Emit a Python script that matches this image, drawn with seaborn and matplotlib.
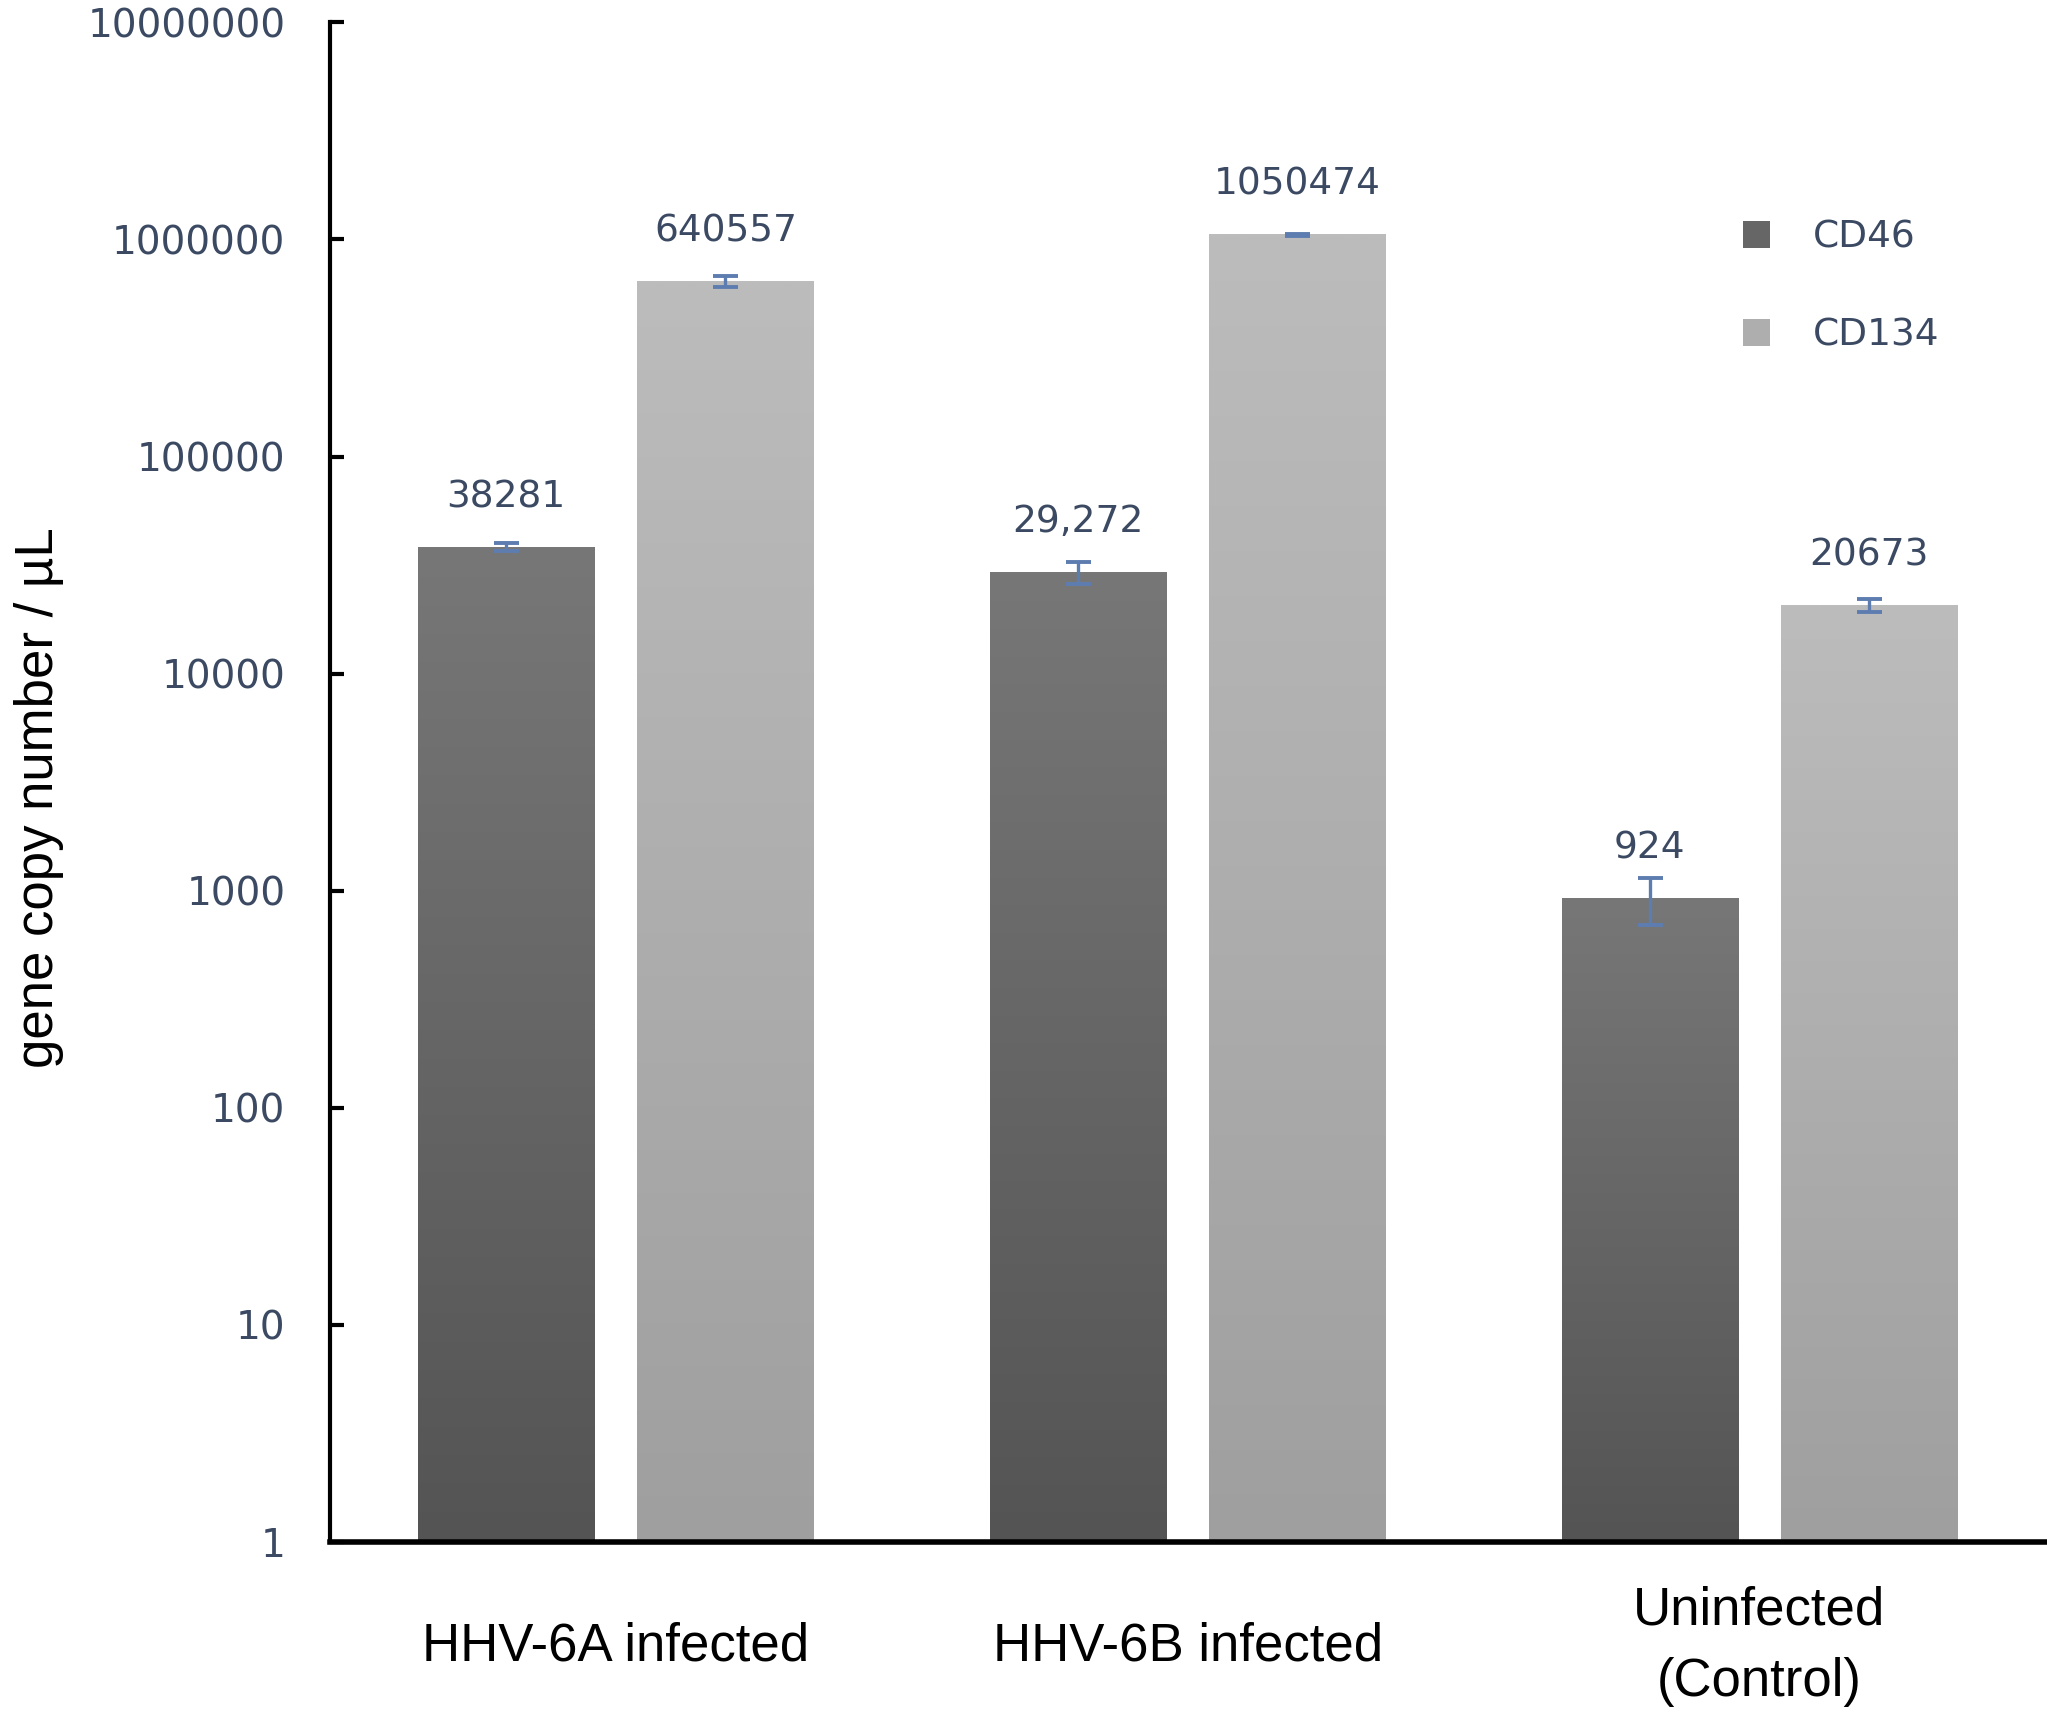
import numpy as np
import pandas as pd
import matplotlib
matplotlib.use("Agg")
import matplotlib.pyplot as plt
from matplotlib import font_manager
import seaborn as sns

# ---------------- data ----------------
categories = ["HHV-6A infected", "HHV-6B infected", "Uninfected\n(Control)"]
genes = ["CD46", "CD134"]
cd46_values = [38281, 29272, 924]
cd134_values = [640557, 1050474, 20673]
cd46_errors = [1500, 3300, 225]
cd134_errors = [35000, 8000, 1450]
cd46_labels = ["38281", "29,272", "924"]
cd134_labels = ["640557", "1050474", "20673"]
ytick_values = [1, 10, 100, 1000, 10000, 100000, 1000000, 10000000]
ytick_labels = ["1", "10", "100", "1000", "10000", "100000", "1000000", "10000000"]

df = pd.DataFrame({
    "category": categories * 2,
    "gene": [genes[0]] * 3 + [genes[1]] * 3,
    "value": cd46_values + cd134_values,
})

# ---------------- style ----------------
sns.set_theme(style="white")
available = {f.name for f in font_manager.fontManager.ttflist}
narrow = "Liberation Sans Narrow" if "Liberation Sans Narrow" in available else None
label_family = [narrow, "Liberation Sans", "DejaVu Sans"] if narrow else ["Liberation Sans", "DejaVu Sans"]
label_size = 46 if narrow else 38
plt.rcParams["font.family"] = ["DejaVu Sans"]

text_color = "#3b4a62"
err_color = "#5d7db0"
top_colors = {"CD46": "#777777", "CD134": "#bcbcbc"}
bot_colors = {"CD46": "#545454", "CD134": "#9f9f9f"}
mid_colors = {"CD46": "#666666", "CD134": "#aeaeae"}

fig = plt.figure(figsize=(20.47, 17.21), dpi=100)
ax = fig.add_axes([0.1612, 0.104, 0.8388, 0.883])

sns.barplot(data=df, x="category", y="value", hue="gene", order=categories,
            hue_order=genes, palette=[mid_colors[g] for g in genes],
            width=0.767, gap=0.197, errorbar=None, ax=ax, saturation=1,
            linewidth=0)

ax.set_yscale("log")
ax.set_ylim(1, 1e7)
ax.set_xlim(-0.5, 2.503)

# gradients per bar
fig.canvas.draw()
to_axes = ax.transData + ax.transAxes.inverted()
for gene, cont in zip(genes, ax.containers):
    c_top = np.array(matplotlib.colors.to_rgb(top_colors[gene]))
    c_bot = np.array(matplotlib.colors.to_rgb(bot_colors[gene]))
    t = np.linspace(0, 1, 256)[:, None]
    grad = (c_top[None, :] * (1 - t) + c_bot[None, :] * t)[:, None, :]
    for patch in cont.patches:
        x0 = patch.get_x()
        x1 = x0 + patch.get_width()
        ytop = patch.get_y() + patch.get_height()
        (ax0, ay1) = to_axes.transform((x0, ytop))
        (ax1, _) = to_axes.transform((x1, ytop))
        ax.imshow(grad, extent=(ax0, ax1, 0, ay1), transform=ax.transAxes,
                  aspect="auto", origin="upper", zorder=2.5, interpolation="bilinear")

ax.set_ylim(1, 1e7)
ax.set_xlim(-0.5, 2.503)

# error bars and value labels
for cont, vals, errs, labs in zip(ax.containers, [cd46_values, cd134_values],
                                  [cd46_errors, cd134_errors], [cd46_labels, cd134_labels]):
    xs = [p.get_x() + p.get_width() / 2 for p in cont.patches]
    ax.errorbar(xs, vals, yerr=errs, fmt="none", ecolor=err_color, elinewidth=2.4,
                capsize=9, capthick=2.8, zorder=5)
    for x, v, lab in zip(xs, vals, labs):
        ax.annotate(lab, xy=(x, v), xytext=(0, 36), textcoords="offset points",
                    ha="center", va="center", fontsize=27, color=text_color,
                    family=["DejaVu Sans"])

# axes styling
for side in ["top", "right"]:
    ax.spines[side].set_visible(False)
ax.spines["left"].set_linewidth(3)
ax.spines["bottom"].set_linewidth(4)
ax.spines["left"].set_color("black")
ax.spines["bottom"].set_color("black")

ax.yaxis.set_major_locator(matplotlib.ticker.FixedLocator(ytick_values))
ax.yaxis.set_minor_locator(matplotlib.ticker.NullLocator())
ax.set_yticklabels(ytick_labels)
ax.tick_params(axis="y", direction="in", length=10, width=3, color="black",
               pad=32, labelsize=28, labelcolor=text_color, left=True)
ax.tick_params(axis="x", length=0, pad=75)
for lab in ax.get_xticklabels():
    lab.set_fontfamily(label_family)
    lab.set_fontsize(label_size)
    lab.set_color("black")
    lab.set_va("center")
    lab.set_linespacing(1.55)

ax.set_xlabel("")
ax.set_ylabel("gene copy number / µL", fontsize=label_size, family=label_family,
              color="black")
ax.yaxis.set_label_coords(-0.155, 0.49)

leg = ax.legend(loc="upper left", bbox_to_anchor=(0.823, 0.870), frameon=False,
                fontsize=27, handlelength=0.72, handleheight=0.72, handletextpad=1.15,
                labelspacing=1.65, borderpad=0, borderaxespad=0)
for txt in leg.get_texts():
    txt.set_color(text_color)

fig.savefig("out.png", dpi=100)
